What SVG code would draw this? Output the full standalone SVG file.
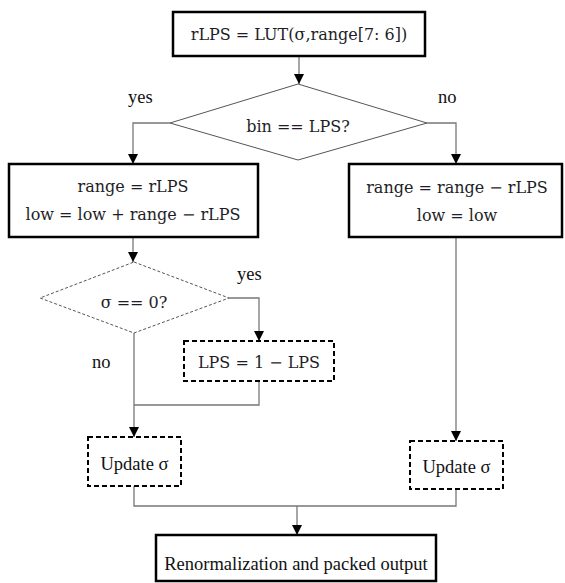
<svg xmlns="http://www.w3.org/2000/svg" width="565" height="583" viewBox="0 0 565 583">
<style>
.box{fill:#fff;stroke:#000;stroke-width:2.5}
.dbox{fill:#fff;stroke:#000;stroke-width:2;stroke-dasharray:5 3}
.dia{fill:#fff;stroke:#555;stroke-width:1}
.ddia{fill:#fff;stroke:#555;stroke-width:1;stroke-dasharray:3 2}
.con{fill:none;stroke:#777;stroke-width:1.3}
.m{font-family:"DejaVu Serif","Liberation Serif",serif;font-size:16px;fill:#1e1e28;text-anchor:middle}
.t{font-family:"Liberation Serif","Times New Roman",serif;font-size:18.5px;fill:#111;text-anchor:middle}
.lbl{font-family:"Liberation Serif","Times New Roman",serif;font-size:18.5px;fill:#111}
</style>
<defs>
<marker id="arr" markerUnits="userSpaceOnUse" markerWidth="10" markerHeight="10" refX="10" refY="5" orient="auto" viewBox="0 0 10 10">
<path d="M0,0 L10,5 L0,10 z" fill="#000"/>
</marker>
</defs>
<g id="connectors">
<path class="con" d="M299,56 V84" marker-end="url(#arr)"/>
<path class="con" d="M170,123 H133 V164" marker-end="url(#arr)"/>
<path class="con" d="M427,123 H456 V164" marker-end="url(#arr)"/>
<path class="con" d="M133,237 V262" marker-end="url(#arr)"/>
<path class="con" d="M229,298 H259 V341" marker-end="url(#arr)"/>
<path class="con" d="M134,333 V437" marker-end="url(#arr)"/>
<path class="con" d="M259,381 V405 H134"/>
<path class="con" d="M456,237 V441" marker-end="url(#arr)"/>
<path class="con" d="M134,486 V506 H456 V489"/>
<path class="con" d="M297,506 V535" marker-end="url(#arr)"/>
</g>
<g id="labels">
<text class="lbl" x="128" y="103">yes</text>
<text class="lbl" x="438" y="103">no</text>
<text class="lbl" x="237" y="280">yes</text>
<text class="lbl" x="92" y="368">no</text>
</g>
<g id="n-lut">
<rect class="box" x="173" y="12" width="252" height="44"/>
<text class="m" x="299" y="40">rLPS = LUT(σ,range[7: 6])</text>
</g>
<g id="n-binlps">
<polygon class="dia" points="298,84 427,123 298,160 170,123"/>
<text class="m" x="298" y="132">bin == LPS?</text>
</g>
<g id="n-yesbox">
<rect class="box" x="9" y="164" width="249" height="73"/>
<text class="m" x="133" y="192">range = rLPS</text>
<text class="m" x="133" y="220">low = low + range − rLPS</text>
</g>
<g id="n-nobox">
<rect class="box" x="349" y="164" width="213" height="73"/>
<text class="m" x="457" y="193">range = range − rLPS</text>
<text class="m" x="457" y="221">low = low</text>
</g>
<g id="n-sigma0">
<polygon class="ddia" points="134,262 229,298 134,333 40,298"/>
<text class="m" x="134" y="308">σ == 0?</text>
</g>
<g id="n-lpsswap">
<rect class="dbox" x="184" y="341" width="150" height="40"/>
<text class="m" x="259" y="368">LPS = 1 − LPS</text>
</g>
<g id="n-update-left">
<rect class="dbox" x="88" y="437" width="93" height="49"/>
<text class="t" x="134.5" y="470">Update σ</text>
</g>
<g id="n-update-right">
<rect class="dbox" x="410" y="441" width="93" height="48"/>
<text class="t" x="456.5" y="473">Update σ</text>
</g>
<g id="n-renorm">
<rect class="box" x="156" y="535" width="280" height="46"/>
<text class="t" x="296" y="570">Renormalization and packed output</text>
</g>
</svg>
